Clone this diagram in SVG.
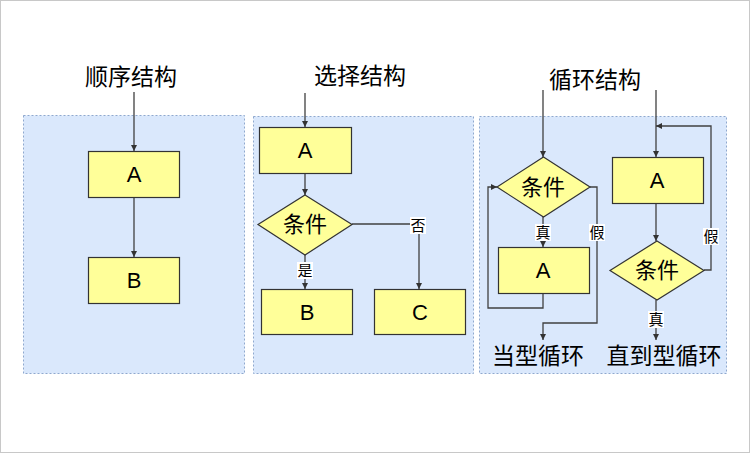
<svg xmlns="http://www.w3.org/2000/svg" width="750" height="453" viewBox="0 0 750 453">
<defs>
<style>
.panel{fill:#dae8fc;stroke:#8fa8cf;stroke-width:1;stroke-dasharray:2 2}
.box{fill:#ffff99;stroke:#333;stroke-width:1.2}
.line{fill:none;stroke:#404040;stroke-width:1.3}
.t{font-family:"Liberation Sans","Noto Sans CJK SC",sans-serif;fill:#000;text-anchor:middle}
.title{font-size:23px}
.node{font-size:22px}
.lab{font-size:15px}
.bg{fill:#fff}
</style>
<marker id="ah" viewBox="0 0 10 10" refX="10" refY="5" markerWidth="6" markerHeight="6" markerUnits="userSpaceOnUse" orient="auto">
<path d="M0,0 L10,5 L0,10 z" fill="#333"/>
</marker>
</defs>
<rect x="0.5" y="0.5" width="749" height="452" fill="#fff" stroke="#c8c8c8"/>
<g id="panels">
<rect class="panel" x="23.5" y="115.5" width="221" height="258"/>
<rect class="panel" x="253.5" y="116.5" width="220" height="257"/>
<rect class="panel" x="479.5" y="116.5" width="247" height="257"/>
</g>
<g id="titles">
<text class="t title" x="131" y="85">顺序结构</text>
<text class="t title" x="360" y="84">选择结构</text>
<text class="t title" x="595" y="88">循环结构</text>
<text class="t title" x="538" y="364">当型循环</text>
<text class="t title" x="664" y="364">直到型循环</text>
</g>
<g id="connectors">
<line class="line" x1="134" y1="92" x2="134" y2="151" marker-end="url(#ah)"/>
<line class="line" x1="134" y1="197" x2="134" y2="257" marker-end="url(#ah)"/>
<line class="line" x1="305" y1="93" x2="305" y2="127" marker-end="url(#ah)"/>
<line class="line" x1="305" y1="173" x2="305" y2="195" marker-end="url(#ah)"/>
<line class="line" x1="305" y1="255" x2="305" y2="289" marker-end="url(#ah)"/>
<polyline class="line" points="352,224 419,224 419,289" marker-end="url(#ah)"/>
<line class="line" x1="543" y1="90" x2="543" y2="157" marker-end="url(#ah)"/>
<line class="line" x1="543" y1="217" x2="543" y2="247" marker-end="url(#ah)"/>
<polyline class="line" points="543,293 543,308 488,308 488,187 497,187" marker-end="url(#ah)"/>
<polyline class="line" points="590,187 597,187 597,323 543,323 543,340" marker-end="url(#ah)"/>
<line class="line" x1="656" y1="90" x2="656" y2="157" marker-end="url(#ah)"/>
<line class="line" x1="656" y1="203" x2="656" y2="241" marker-end="url(#ah)"/>
<polyline class="line" points="704,270 711,270 711,126 656,126" marker-end="url(#ah)"/>
<line class="line" x1="656" y1="300" x2="656" y2="340" marker-end="url(#ah)"/>
</g>
<g id="labels">
<rect class="bg" x="297" y="262" width="16" height="17"/>
<text class="t lab" x="305" y="276">是</text>
<rect class="bg" x="410" y="217" width="16" height="17"/>
<text class="t lab" x="418" y="231">否</text>
<rect class="bg" x="535" y="224" width="16" height="17"/>
<text class="t lab" x="543" y="238">真</text>
<rect class="bg" x="589" y="224" width="16" height="17"/>
<text class="t lab" x="597" y="238">假</text>
<rect class="bg" x="703" y="228" width="16" height="17"/>
<text class="t lab" x="711" y="242">假</text>
<rect class="bg" x="648" y="311" width="16" height="17"/>
<text class="t lab" x="656" y="325">真</text>
</g>
<g id="seqA"><rect class="box" x="88.5" y="151.5" width="91" height="46"/><text class="t node" x="134" y="182">A</text></g>
<g id="seqB"><rect class="box" x="88.5" y="257.5" width="91" height="46"/><text class="t node" x="134" y="288">B</text></g>
<g id="selA"><rect class="box" x="259.5" y="127.5" width="92" height="46"/><text class="t node" x="305" y="158">A</text></g>
<g id="selCond"><polygon class="box" points="305,195 352,224.5 305,255 258,224.5"/><text class="t node" x="305" y="232">条件</text></g>
<g id="selB"><rect class="box" x="261.5" y="289.5" width="91" height="45"/><text class="t node" x="307" y="320">B</text></g>
<g id="selC"><rect class="box" x="374.5" y="289.5" width="91" height="45"/><text class="t node" x="420" y="320">C</text></g>
<g id="whileCond"><polygon class="box" points="543.5,157 590,187 543.5,217 497,187"/><text class="t node" x="543" y="195">条件</text></g>
<g id="whileA"><rect class="box" x="498.5" y="247.5" width="91" height="46"/><text class="t node" x="543" y="278">A</text></g>
<g id="untilA"><rect class="box" x="612.5" y="157.5" width="91" height="46"/><text class="t node" x="657" y="188">A</text></g>
<g id="untilCond"><polygon class="box" points="657,241 704,270.5 657,300 610,270.5"/><text class="t node" x="657" y="278">条件</text></g>
</svg>
